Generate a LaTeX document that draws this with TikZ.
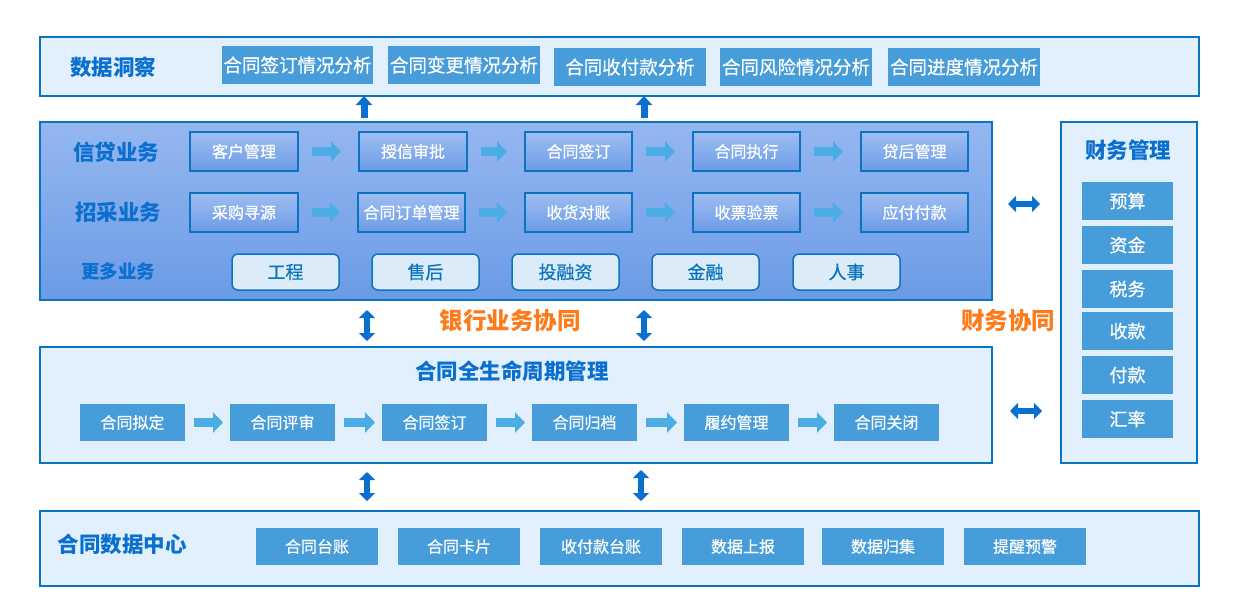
\documentclass[tikz,border=0pt]{standalone}
\usepackage{fontspec}
\setmainfont{Noto Sans CJK SC}
\newfontfamily\medf{Noto Sans CJK SC}[FakeBold=0.6]
\usetikzlibrary{arrows.meta}
\definecolor{bd}{HTML}{0A74C0}
\definecolor{lightbg}{HTML}{E1F0FC}
\definecolor{mid}{HTML}{469DDA}
\definecolor{g1}{HTML}{95B7F0}
\definecolor{g2}{HTML}{6B9BE6}
\definecolor{pale}{HTML}{DCEBF8}
\definecolor{lb}{HTML}{4BADE3}
\definecolor{db}{HTML}{0A70CF}
\definecolor{ttl}{HTML}{0A6FCF}
\definecolor{org}{HTML}{FF7A1A}
\newcommand\rect[7]{\node[#2,anchor=north west,minimum width={(#5-#3)*1pt},minimum height={(#6-#4)*1pt}] (#1) at (#3,#4) {#7};}
\tikzset{
  base/.style={inner sep=0pt,outer sep=0pt},
  panel/.style={base,draw=bd,line width=2pt,fill=lightbg},
  cpanel/.style={base,draw=bd,line width=2pt,top color=g1,bottom color=g2},
  cbox/.style={base,draw=bd,line width=2pt,top color=g1!90!white,bottom color=g2,text=white,font=\medf\fontsize{16}{16}\selectfont},
  mbox/.style={base,fill=mid,text=white,font=\medf\fontsize{16}{16}\selectfont},
  tbox/.style={base,fill=mid,text=white,font=\medf\fontsize{18.5}{18.5}\selectfont},
  fbox/.style={base,fill=mid,text=white,font=\medf\fontsize{18}{18}\selectfont},
  rbox/.style={base,draw=bd,line width=1.5pt,rounded corners=6pt,fill=pale,text=bd,font=\medf\fontsize{18}{18}\selectfont},
  ttlA/.style={text=ttl,font=\bfseries\fontsize{21.5}{21.5}\selectfont},
  ttlB/.style={text=ttl,font=\bfseries\fontsize{18.5}{18.5}\selectfont},
  orgt/.style={text=org,font=\bfseries\fontsize{23.5}{23.5}\selectfont},
  flow/.style={draw=lb,line width=9pt,-{Triangle[width=20pt,length=10pt]}},
  biarrow/.style={draw=db,line width=6pt,{Triangle[width=16pt,length=8pt]}-{Triangle[width=16pt,length=8pt]}},
  uparrow/.style={draw=db,line width=7pt,-{Triangle[width=16pt,length=9pt]}},
}
\begin{document}
\begin{tikzpicture}[x=1pt,y=-1pt]
\useasboundingbox (0,0) rectangle (1238,614);
% top panel
\rect{top}{panel}{40}{37}{1199}{96}{}
\node[ttlA] (tl) at (113,67) {数据洞察};
\rect{t1}{tbox}{222}{46}{373}{84}{合同签订情况分析}
\rect{t2}{tbox}{388}{46}{540}{84}{合同变更情况分析}
\rect{t3}{tbox}{554}{48}{706}{86}{合同收付款分析}
\rect{t4}{tbox}{720}{48}{872}{86}{合同风险情况分析}
\rect{t5}{tbox}{888}{48}{1040}{86}{合同进度情况分析}
% credit panel
\rect{cr}{cpanel}{40}{122}{992}{300}{}
\node[ttlA] (l1) at (116,152) {信贷业务};
\node[ttlA] (l2) at (118,212) {招采业务};
\node[ttlB] (l3) at (118,271) {更多业务};
\rect{a1}{cbox}{190}{132}{298}{171}{客户管理}
\rect{a2}{cbox}{359}{132}{467}{171}{授信审批}
\rect{a3}{cbox}{525}{132}{632}{171}{合同签订}
\rect{a4}{cbox}{693}{132}{800}{171}{合同执行}
\rect{a5}{cbox}{861}{132}{968}{171}{贷后管理}
\rect{b1}{cbox}{190}{193}{298}{232}{采购寻源}
\rect{b2}{cbox}{358}{193}{465}{232}{合同订单管理}
\rect{b3}{cbox}{525}{193}{632}{232}{收货对账}
\rect{b4}{cbox}{693}{193}{800}{232}{收票验票}
\rect{b5}{cbox}{861}{193}{968}{232}{应付付款}
\foreach \p/\q in {a1/a2,a2/a3,a3/a4,a4/a5,b1/b2,b2/b3,b3/b4,b4/b5}
  \draw[flow] ([xshift=14pt]\p.east) -- ([xshift=-18pt]\q.west);
\rect{m1}{rbox}{232}{254}{339}{290}{工程}
\rect{m2}{rbox}{372}{254}{479}{290}{售后}
\rect{m3}{rbox}{512}{254}{619}{290}{投融资}
\rect{m4}{rbox}{652}{254}{759}{290}{金融}
\rect{m5}{rbox}{793}{254}{900}{290}{人事}
% up arrows
\coordinate (u1s) at (364,118); \coordinate (u1e) at (364,96);
\coordinate (u2s) at (644,118); \coordinate (u2e) at (644,96);
\draw[uparrow] (u1s) -- (u1e);
\draw[uparrow] (u2s) -- (u2e);
% lifecycle panel
\rect{lc}{panel}{40}{347}{992}{463}{}
\node[ttlA] (lct) at (512,371) {合同全生命周期管理};
\rect{c1}{mbox}{80}{404}{185}{441}{合同拟定}
\rect{c2}{mbox}{230}{404}{335}{441}{合同评审}
\rect{c3}{mbox}{382}{404}{487}{441}{合同签订}
\rect{c4}{mbox}{532}{404}{637}{441}{合同归档}
\rect{c5}{mbox}{684}{404}{789}{441}{履约管理}
\rect{c6}{mbox}{834}{404}{939}{441}{合同关闭}
\foreach \p/\q in {c1/c2,c2/c3,c3/c4,c4/c5,c5/c6}
  \draw[flow] ([xshift=9pt]\p.east) -- ([xshift=-7pt]\q.west);
% labels
\node[orgt] (bank) at (510,321) {银行业务协同};
\node[orgt] (fin) at (1008,321) {财务协同};
% vertical double arrows
\coordinate (v1a) at (367,310); \coordinate (v1b) at (367,341);
\coordinate (v2a) at (644,310); \coordinate (v2b) at (644,341);
\coordinate (v3a) at (367,472); \coordinate (v3b) at (367,501);
\coordinate (v4a) at (641,470); \coordinate (v4b) at (641,501);
\draw[biarrow] (v1a) -- (v1b);
\draw[biarrow] (v2a) -- (v2b);
\draw[biarrow] (v3a) -- (v3b);
\draw[biarrow] (v4a) -- (v4b);
% data center
\rect{dc}{panel}{40}{511}{1199}{586}{}
\node[ttlA] (dct) at (122,544) {合同数据中心};
\rect{d1}{mbox}{256}{528}{378}{565}{合同台账}
\rect{d2}{mbox}{398}{528}{520}{565}{合同卡片}
\rect{d3}{mbox}{540}{528}{662}{565}{收付款台账}
\rect{d4}{mbox}{682}{528}{804}{565}{数据上报}
\rect{d5}{mbox}{822}{528}{944}{565}{数据归集}
\rect{d6}{mbox}{964}{528}{1086}{565}{提醒预警}
% finance panel
\rect{fp}{panel}{1061}{122}{1197}{463}{}
\node[ttlA] (fpt) at (1128,150) {财务管理};
\rect{f1}{fbox}{1082}{182}{1173}{220}{预算}
\rect{f2}{fbox}{1082}{226}{1173}{264}{资金}
\rect{f3}{fbox}{1082}{270}{1173}{308}{税务}
\rect{f4}{fbox}{1082}{312}{1173}{350}{收款}
\rect{f5}{fbox}{1082}{356}{1173}{394}{付款}
\rect{f6}{fbox}{1082}{400}{1173}{438}{汇率}
% horizontal double arrows
\coordinate (h1a) at (1008,204); \coordinate (h1b) at (1040,204);
\coordinate (h2a) at (1010,411); \coordinate (h2b) at (1042,411);
\draw[biarrow] (h1a) -- (h1b);
\draw[biarrow] (h2a) -- (h2b);
\end{tikzpicture}
\end{document}
